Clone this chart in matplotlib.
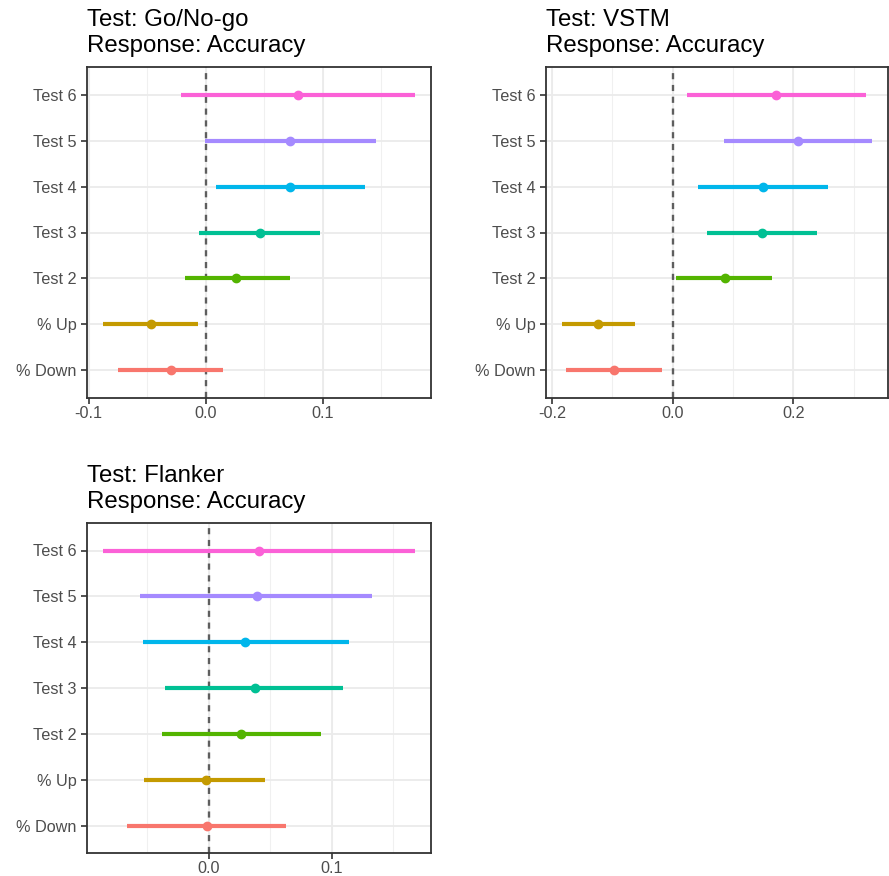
import matplotlib
matplotlib.use("Agg")
import matplotlib.pyplot as plt
import numpy as np

matplotlib.rcParams.update({"font.family": ["Liberation Sans", "DejaVu Sans"]})

CATEGORIES = ["% Down", "% Up", "Test 2", "Test 3", "Test 4", "Test 5", "Test 6"]
COLORS = ["#F8766D", "#C49A00", "#53B400", "#00C094", "#00B6EB", "#A58AFF", "#FB61D7"]

TITLES = ["Test: Go/No-go\nResponse: Accuracy",
          "Test: VSTM\nResponse: Accuracy",
          "Test: Flanker\nResponse: Accuracy"]

# estimates and intervals, in CATEGORIES order
GONOGO_EST = [-0.030, -0.047, 0.026, 0.046, 0.072, 0.072, 0.079]
GONOGO_LO = [-0.075, -0.088, -0.018, -0.006, 0.009, -0.001, -0.021]
GONOGO_HI = [0.015, -0.007, 0.072, 0.098, 0.136, 0.145, 0.179]

VSTM_EST = [-0.097, -0.123, 0.086, 0.148, 0.149, 0.208, 0.172]
VSTM_LO = [-0.176, -0.184, 0.006, 0.057, 0.042, 0.085, 0.024]
VSTM_HI = [-0.018, -0.063, 0.165, 0.239, 0.258, 0.331, 0.320]

FLANKER_EST = [-0.001, -0.002, 0.026, 0.038, 0.030, 0.039, 0.041]
FLANKER_LO = [-0.066, -0.052, -0.038, -0.035, -0.053, -0.056, -0.086]
FLANKER_HI = [0.063, 0.046, 0.091, 0.109, 0.114, 0.133, 0.168]

PANELS = [
    (GONOGO_EST, GONOGO_LO, GONOGO_HI, [-0.1, 0.0, 0.1], 0.05),
    (VSTM_EST, VSTM_LO, VSTM_HI, [-0.2, 0.0, 0.2], 0.1),
    (FLANKER_EST, FLANKER_LO, FLANKER_HI, [0.0, 0.1], 0.05),
]

W, H = 889, 876
# axes boxes in pixels: left, top, right, bottom
BOXES = [(87, 67, 431, 398), (546, 67, 888, 398), (87, 523, 431, 853)]

fig = plt.figure(figsize=(W / 100, H / 100), dpi=100)

for (est, lo, hi, ticks, minor_step), title, (l, t, r, b) in zip(PANELS, TITLES, BOXES):
    ax = fig.add_axes([l / W, 1 - b / H, (r - l) / W, (b - t) / H])
    y = np.arange(1, len(CATEGORIES) + 1)

    # ggplot-like expansion
    xmin, xmax = min(lo), max(hi)
    pad = 0.05 * (xmax - xmin)
    ax.set_xlim(xmin - pad, xmax + pad)
    ax.set_ylim(0.4, len(CATEGORIES) + 0.6)

    # minor + major grid
    minors = np.arange(-1, 1, minor_step)
    for m in minors:
        ax.axvline(m, color="#F0F0F0", lw=0.8, zorder=0)
    for tk in ticks:
        ax.axvline(tk, color="#EBEBEB", lw=1.3, zorder=0)
    for yy in y:
        ax.axhline(yy, color="#EBEBEB", lw=1.3, zorder=0)

    ax.axvline(0, color="#5E5E5E", lw=1.7, ls=(0, (2.6, 2.4)), zorder=1)

    for i in range(len(CATEGORIES)):
        ax.plot([lo[i], hi[i]], [y[i], y[i]], color=COLORS[i], lw=3.0,
                solid_capstyle="butt", zorder=2)
        ax.plot(est[i], y[i], "o", color=COLORS[i], ms=6, zorder=3)

    ax.set_yticks(y)
    ax.set_yticklabels(CATEGORIES)
    ax.set_xticks(ticks)
    ax.set_xticklabels([f"{v:.1f}" for v in ticks])
    ax.tick_params(axis="both", colors="#333333", labelcolor="#4D4D4D",
                   labelsize=11.7, length=4, width=1.2)
    ax.tick_params(axis="y", pad=3.5)
    ax.tick_params(axis="x", pad=1.5)
    for s in ax.spines.values():
        s.set_color("#333333")
        s.set_linewidth(1.3)
    ax.set_title(title, loc="left", fontsize=17.3, color="black",
                 linespacing=1.2, pad=11)

fig.savefig("out.png", dpi=100)
